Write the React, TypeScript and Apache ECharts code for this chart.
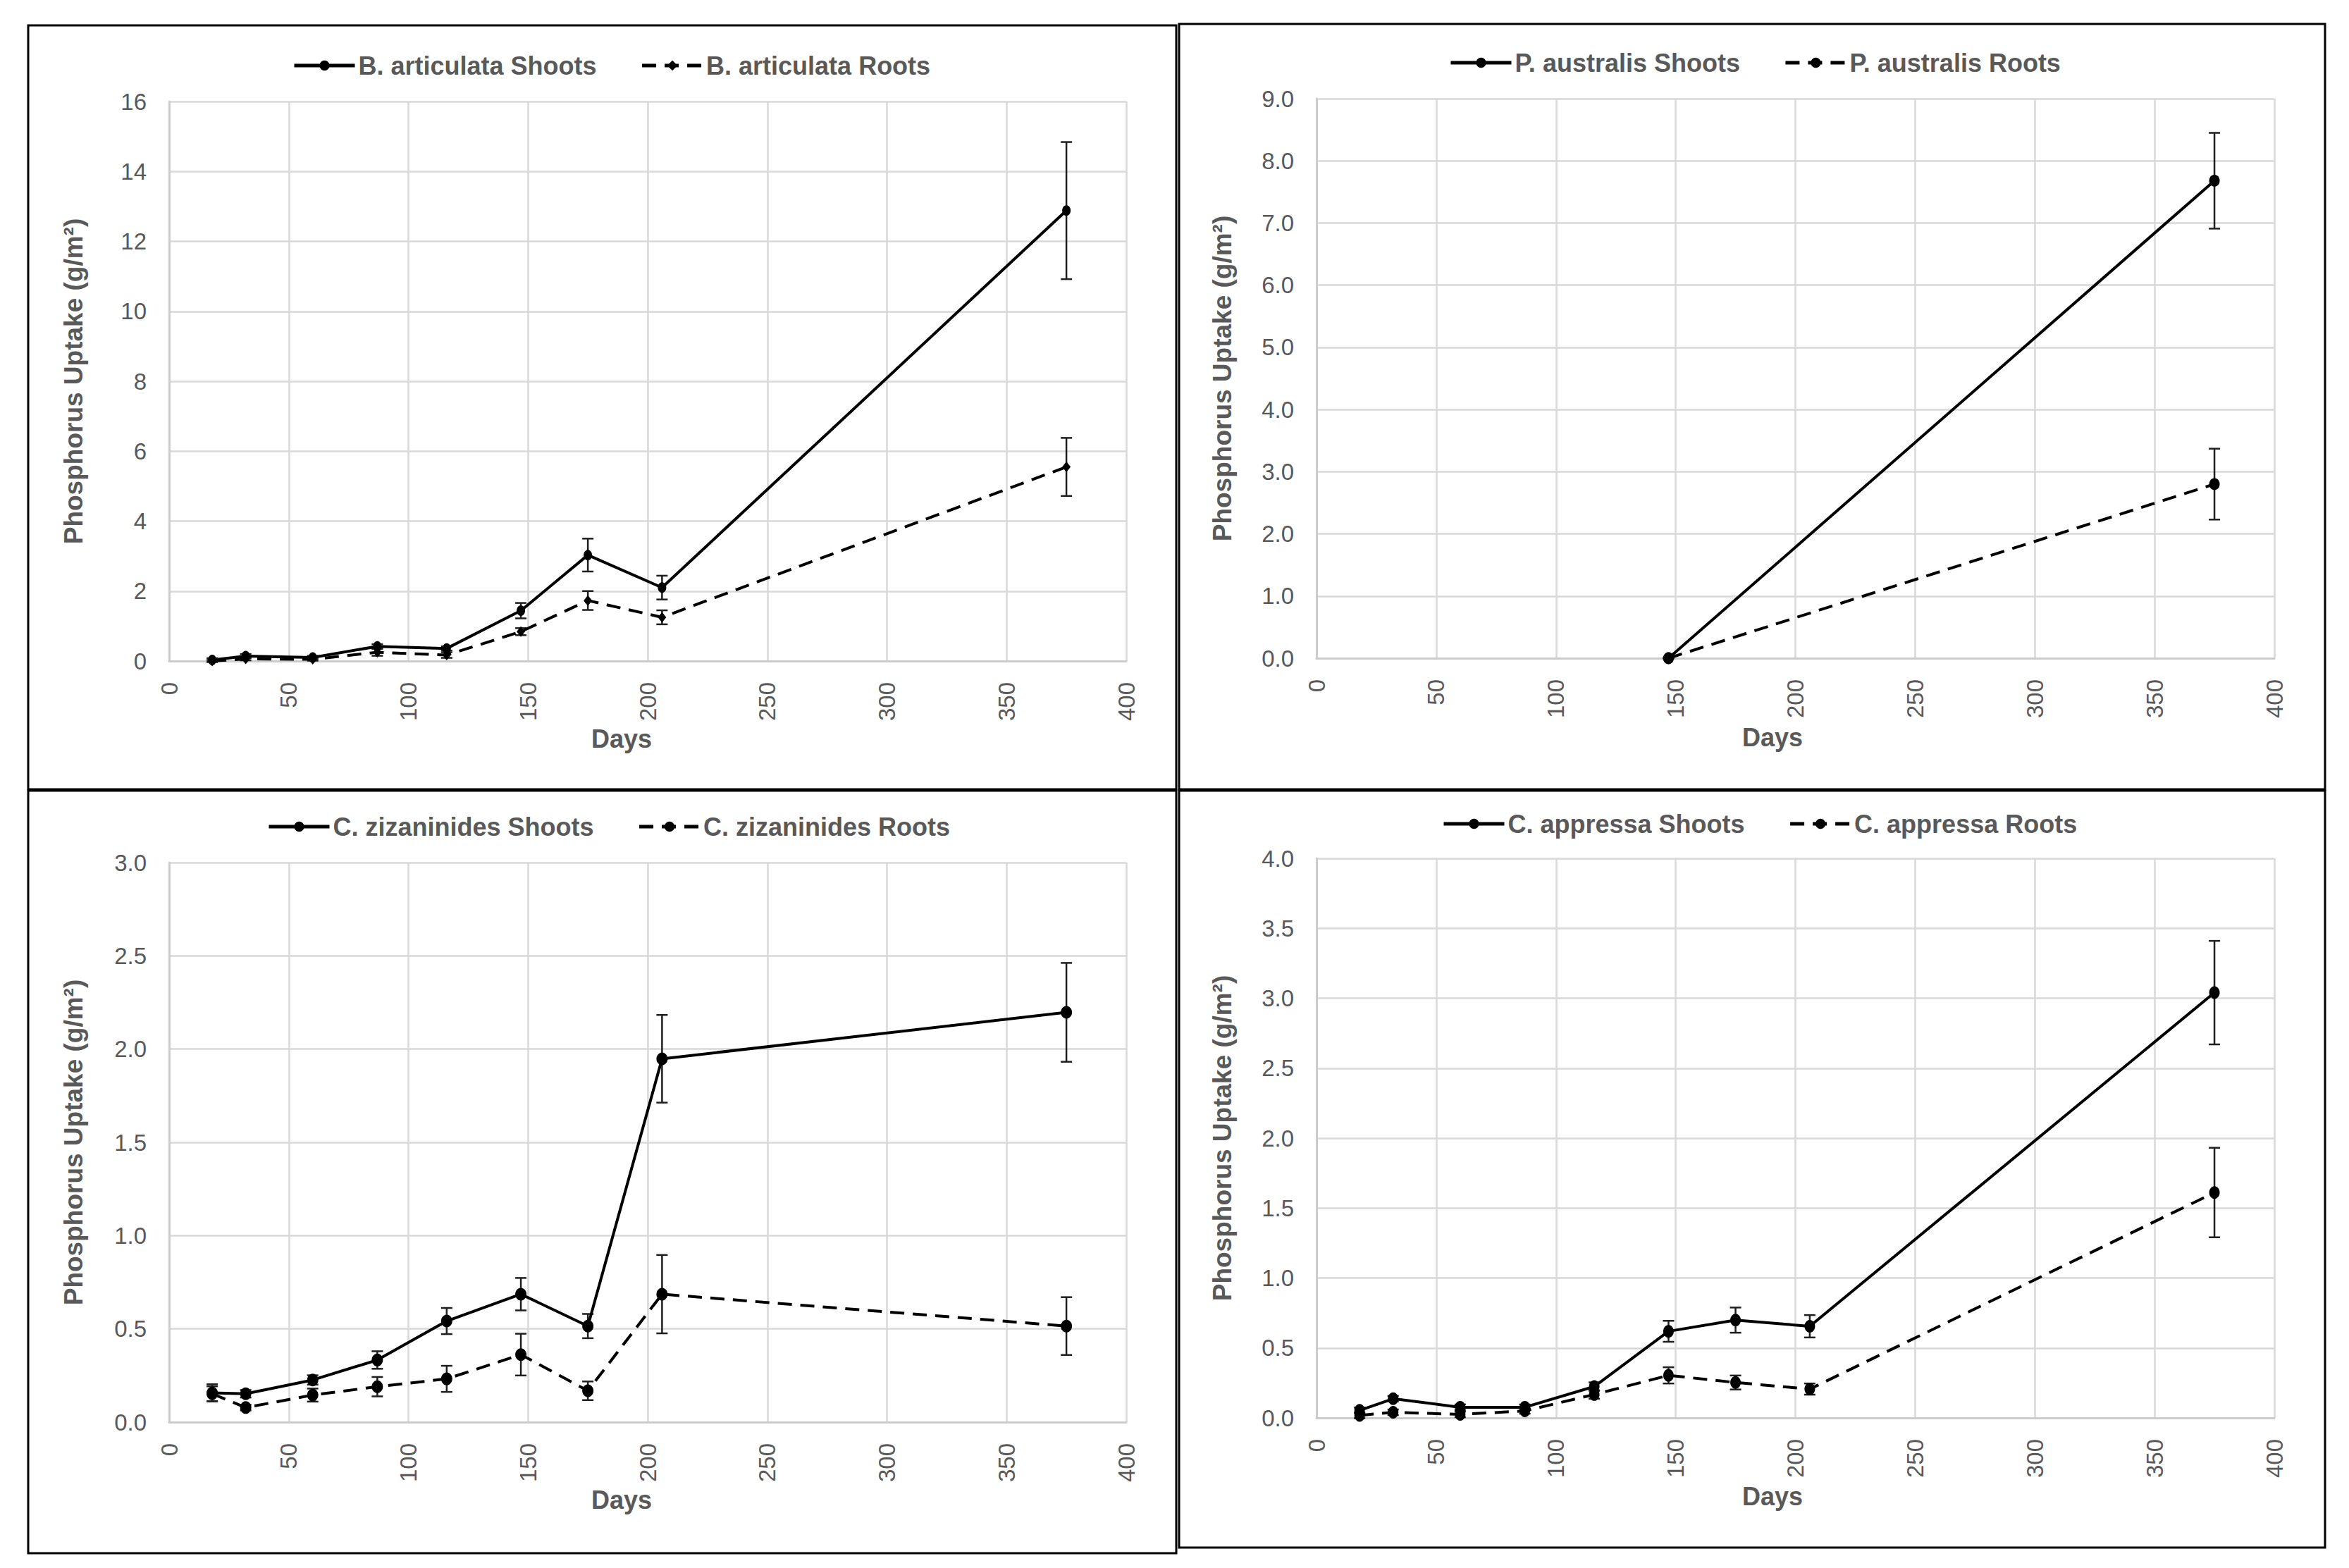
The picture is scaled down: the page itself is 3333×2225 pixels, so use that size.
import React, { useEffect, useRef } from "react";
import * as echarts from "echarts";

// Sampling days (days after planting)
const days = [18, 32, 60, 87, 116, 147, 175, 206, 375];
const ausDays = [147, 375];

// B. articulata phosphorus uptake (g/m²) with standard errors
const artShoots = [0.03, 0.14, 0.1, 0.42, 0.36, 1.44, 3.03, 2.1, 12.88];
const artShootsSE = [0.05, 0.06, 0.05, 0.06, 0.06, 0.22, 0.47, 0.34, 1.96];
const artRoots = [0.0, 0.06, 0.05, 0.25, 0.17, 0.84, 1.73, 1.25, 5.55];
const artRootsSE = [0.03, 0.04, 0.04, 0.1, 0.08, 0.1, 0.27, 0.2, 0.83];

// P. australis
const ausShoots = [0.0, 7.68];
const ausShootsSE = [0.0, 0.77];
const ausRoots = [0.0, 2.8];
const ausRootsSE = [0.0, 0.57];

// C. zizaninides
const zizShoots = [0.157, 0.152, 0.226, 0.333, 0.542, 0.686, 0.515, 1.948, 2.197];
const zizShootsSE = [0.046, 0.02, 0.025, 0.047, 0.07, 0.087, 0.065, 0.235, 0.265];
const zizRoots = [0.152, 0.078, 0.145, 0.19, 0.232, 0.362, 0.168, 0.686, 0.515];
const zizRootsSE = [0.04, 0.015, 0.035, 0.052, 0.07, 0.112, 0.05, 0.21, 0.155];

// C. appressa
const appShoots = [0.054, 0.137, 0.076, 0.076, 0.224, 0.619, 0.699, 0.655, 3.04];
const appShootsSE = [0.02, 0.02, 0.02, 0.02, 0.03, 0.075, 0.09, 0.08, 0.37];
const appRoots = [0.018, 0.04, 0.025, 0.05, 0.167, 0.304, 0.253, 0.206, 1.611];
const appRootsSE = [0.02, 0.02, 0.02, 0.02, 0.03, 0.058, 0.05, 0.04, 0.32];

// Axis settings
const xMax = 400;
const xStep = 50;
const yMaxes = [16, 9, 3, 4];
const ySteps = [2, 1, 0.5, 0.5];
const yDecimals = [0, 1, 1, 1];

const xTitle = "Days";
const yTitle = "Phosphorus Uptake (g/m²)";

const FONT = "'Liberation Sans', Arial, Helvetica, sans-serif";
const GREY = "#595959";
const GRID_GREY = "#d9d9d9";

type Panel = {
  grid: { left: number; top: number; width: number; height: number };
  frame: [number, number, number, number];
  legendPos: [number, number];
  yTitlePos: [number, number];
  xTitlePos: [number, number];
  species: string;
  x: number[];
  shoots: number[];
  shootsSE: number[];
  roots: number[];
  rootsSE: number[];
  rootSymbol: string;
  symbolSize: number | number[];
};

const panels: Panel[] = [
  {
    grid: { left: 240, top: 144, width: 1358, height: 794 },
    frame: [40, 36, 1629, 1084],
    legendPos: [410, 70],
    yTitlePos: [104, 541],
    xTitlePos: [882, 1048],
    species: "B. articulata",
    x: days,
    shoots: artShoots,
    shootsSE: artShootsSE,
    roots: artRoots,
    rootsSE: artRootsSE,
    rootSymbol: "diamond",
    symbolSize: [12, 15],
  },
  {
    grid: { left: 1868, top: 140, width: 1359, height: 794 },
    frame: [1673, 34, 1626, 1086],
    legendPos: [2051, 66],
    yTitlePos: [1734, 537],
    xTitlePos: [2515, 1046],
    species: "P. australis",
    x: ausDays,
    shoots: ausShoots,
    shootsSE: ausShootsSE,
    roots: ausRoots,
    rootsSE: ausRootsSE,
    rootSymbol: "circle",
    symbolSize: [15, 17],
  },
  {
    grid: { left: 240, top: 1224, width: 1358, height: 794 },
    frame: [40, 1122, 1629, 1082],
    legendPos: [374, 1150],
    yTitlePos: [104, 1621],
    xTitlePos: [882, 2128],
    species: "C. zizaninides",
    x: days,
    shoots: zizShoots,
    shootsSE: zizShootsSE,
    roots: zizRoots,
    rootsSE: zizRootsSE,
    rootSymbol: "circle",
    symbolSize: [16, 18],
  },
  {
    grid: { left: 1868, top: 1218, width: 1359, height: 794 },
    frame: [1673, 1122, 1626, 1074],
    legendPos: [2041, 1146],
    yTitlePos: [1734, 1615],
    xTitlePos: [2515, 2123],
    species: "C. appressa",
    x: days,
    shoots: appShoots,
    shootsSE: appShootsSE,
    roots: appRoots,
    rootsSE: appRootsSE,
    rootSymbol: "circle",
    symbolSize: [15, 18],
  },
];

function errorBarSeries(idx: number, x: number[], v: number[], se: number[]) {
  return {
    type: "custom",
    xAxisIndex: idx,
    yAxisIndex: idx,
    z: 3,
    silent: true,
    encode: { x: 0, y: [1, 2] },
    data: x.map((d, i) => [d, v[i] - se[i], v[i] + se[i]]),
    renderItem: (_params: any, api: any) => {
      const xv = api.value(0);
      const top = api.coord([xv, api.value(2)]);
      const bot = api.coord([xv, api.value(1)]);
      const hw = 8;
      const style = { stroke: "#1f1f1f", lineWidth: 2.5 };
      return {
        type: "group",
        children: [
          { type: "line", shape: { x1: top[0], y1: top[1], x2: bot[0], y2: bot[1] }, style },
          { type: "line", shape: { x1: top[0] - hw, y1: top[1], x2: top[0] + hw, y2: top[1] }, style },
          { type: "line", shape: { x1: bot[0] - hw, y1: bot[1], x2: bot[0] + hw, y2: bot[1] }, style },
        ],
      };
    },
  };
}

function buildOption() {
  const grid: any[] = [];
  const xAxis: any[] = [];
  const yAxis: any[] = [];
  const legend: any[] = [];
  const series: any[] = [];
  const graphic: any[] = [];

  panels.forEach((p, idx) => {
    grid.push({ ...p.grid, containLabel: false });
    xAxis.push({
      type: "value",
      gridIndex: idx,
      min: 0,
      max: xMax,
      interval: xStep,
      axisLine: { show: true, lineStyle: { color: "#cccccc", width: 3 } },
      axisTick: { show: false },
      splitLine: { show: true, lineStyle: { color: GRID_GREY, width: 2.5 } },
      axisLabel: {
        rotate: 90,
        margin: 30,
        color: GREY,
        fontFamily: FONT,
        fontSize: 33,
      },
    });
    const dec = yDecimals[idx];
    yAxis.push({
      type: "value",
      gridIndex: idx,
      min: 0,
      max: yMaxes[idx],
      interval: ySteps[idx],
      axisLine: { show: true, lineStyle: { color: "#cccccc", width: 3 } },
      axisTick: { show: false },
      splitLine: { show: true, lineStyle: { color: GRID_GREY, width: 2.5 } },
      axisLabel: {
        margin: 32,
        color: GREY,
        fontFamily: FONT,
        fontSize: 33,
        formatter: (v: number) => v.toFixed(dec),
      },
    });

    const shootName = `${p.species} Shoots`;
    const rootName = `${p.species} Roots`;

    series.push(errorBarSeries(idx, p.x, p.shoots, p.shootsSE));
    series.push(errorBarSeries(idx, p.x, p.roots, p.rootsSE));
    series.push({
      type: "line",
      name: shootName,
      xAxisIndex: idx,
      yAxisIndex: idx,
      z: 4,
      data: p.x.map((d, i) => [d, p.shoots[i]]),
      symbol: "circle",
      symbolSize: p.symbolSize,
      showAllSymbol: true,
      itemStyle: { color: "#000000" },
      lineStyle: { color: "#000000", width: 4, type: "solid" },
    });
    series.push({
      type: "line",
      name: rootName,
      xAxisIndex: idx,
      yAxisIndex: idx,
      z: 4,
      data: p.x.map((d, i) => [d, p.roots[i]]),
      symbol: p.rootSymbol,
      symbolSize: p.symbolSize,
      showAllSymbol: true,
      itemStyle: { color: "#000000" },
      lineStyle: { color: "#000000", width: 4, type: [20, 12] },
    });

    legend.push({
      data: [shootName, rootName],
      left: p.legendPos[0],
      top: p.legendPos[1],
      itemWidth: 86,
      itemHeight: 18,
      itemGap: 62,
      lineStyle: { width: 5 },
      textStyle: {
        color: GREY,
        fontFamily: FONT,
        fontSize: 36,
        fontWeight: "bold",
      },
    });

    graphic.push({
      type: "rect",
      shape: { x: p.frame[0], y: p.frame[1], width: p.frame[2], height: p.frame[3] },
      style: { fill: "none", stroke: "#000000", lineWidth: 3 },
      z: 10,
      silent: true,
    });
    graphic.push({
      type: "text",
      x: p.yTitlePos[0],
      y: p.yTitlePos[1],
      rotation: Math.PI / 2,
      style: {
        text: yTitle,
        fill: GREY,
        font: `bold 37px ${FONT}`,
        align: "center",
        verticalAlign: "middle",
      },
      silent: true,
    });
    graphic.push({
      type: "text",
      x: p.xTitlePos[0],
      y: p.xTitlePos[1],
      style: {
        text: xTitle,
        fill: GREY,
        font: `bold 36px ${FONT}`,
        align: "center",
        verticalAlign: "middle",
      },
      silent: true,
    });
  });

  return {
    animation: false,
    backgroundColor: "#ffffff",
    grid,
    xAxis,
    yAxis,
    legend,
    series,
    graphic,
  };
}

export default function App() {
  const ref = useRef<HTMLDivElement>(null);
  useEffect(() => {
    if (!ref.current) return;
    const chart = echarts.init(ref.current, null, { renderer: "svg" });
    chart.setOption(buildOption() as any);
    return () => chart.dispose();
  }, []);
  return (
    <div
      ref={ref}
      style={{ position: "absolute", left: 0, top: 0, width: 3333, height: 2225, background: "#ffffff" }}
    />
  );
}
